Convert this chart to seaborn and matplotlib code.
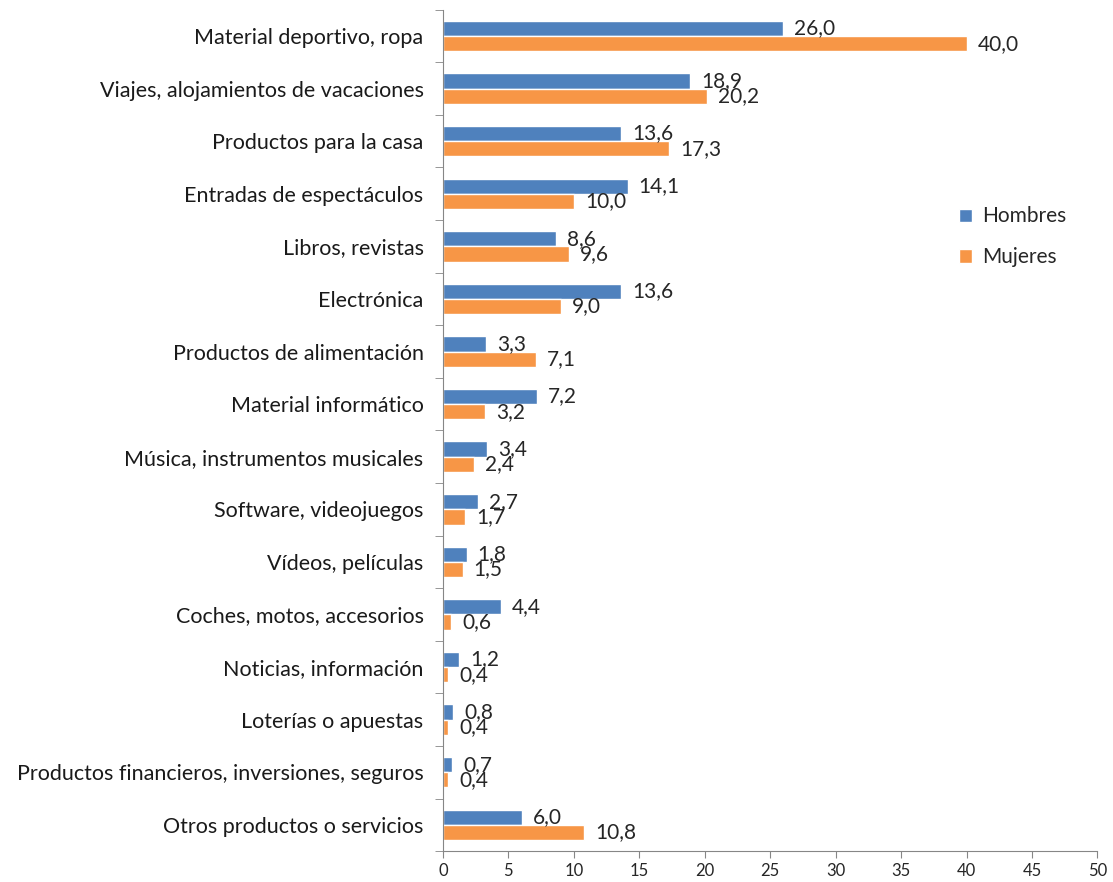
import matplotlib
matplotlib.use("Agg")
import matplotlib.pyplot as plt
import seaborn as sns
import pandas as pd

categorias = [
    "Material deportivo, ropa",
    "Viajes, alojamientos de vacaciones",
    "Productos para la casa",
    "Entradas de espectáculos",
    "Libros, revistas",
    "Electrónica",
    "Productos de alimentación",
    "Material informático",
    "Música, instrumentos musicales",
    "Software, videojuegos",
    "Vídeos, películas",
    "Coches, motos, accesorios",
    "Noticias, información",
    "Loterías o apuestas",
    "Productos financieros, inversiones, seguros",
    "Otros productos o servicios",
]
hombres = [26.0, 18.9, 13.6, 14.1, 8.6, 13.6, 3.3, 7.2, 3.4, 2.7, 1.8, 4.4, 1.2, 0.8, 0.7, 6.0]
mujeres = [40.0, 20.2, 17.3, 10.0, 9.6, 9.0, 7.1, 3.2, 2.4, 1.7, 1.5, 0.6, 0.4, 0.4, 0.4, 10.8]
series = ["Hombres", "Mujeres"]
colores = ["#4F81BD", "#F79646"]

df = pd.DataFrame({
    "categoria": categorias * 2,
    "valor": hombres + mujeres,
    "sexo": [series[0]] * len(categorias) + [series[1]] * len(categorias),
})

sns.set_style("white")
plt.rcParams["font.family"] = ["Lato", "DejaVu Sans"]

fig = plt.figure(figsize=(11.13, 8.82), dpi=100)
ax = fig.add_axes([0.398, 0.035, 0.588, 0.954])

sns.barplot(data=df, x="valor", y="categoria", hue="sexo", orient="h",
            palette=colores, width=0.58, saturation=1, ax=ax)

for cont in ax.containers:
    ax.bar_label(cont, labels=[f"{v:.1f}".replace(".", ",") for v in cont.datavalues],
                 padding=8, fontsize=15)

ax.set_xlim(0, 50)
ax.set_xticks(range(0, 51, 5))
ax.set_xlabel("")
ax.set_ylabel("")
ax.tick_params(axis="y", labelsize=15.5, length=0, pad=14, labelcolor="#1a1a1a")
ax.tick_params(axis="x", labelsize=12, length=5, color="#868686", bottom=True)
for s in ["top", "right"]:
    ax.spines[s].set_visible(False)
for s in ["left", "bottom"]:
    ax.spines[s].set_color("#868686")

# marcas entre categorías en el eje vertical
ax.set_yticks([i + 0.5 for i in range(-1, len(categorias))], minor=True)
ax.tick_params(axis="y", which="minor", length=6, color="#868686", left=True)
ax.set_ylim(len(categorias) - 0.5, -0.5)

ax.legend(loc="center left", bbox_to_anchor=(0.76, 0.73), frameon=False,
          fontsize=15, handlelength=0.6, handleheight=0.6, handletextpad=0.5,
          labelspacing=1.0)

fig.savefig("out.png", dpi=100)
